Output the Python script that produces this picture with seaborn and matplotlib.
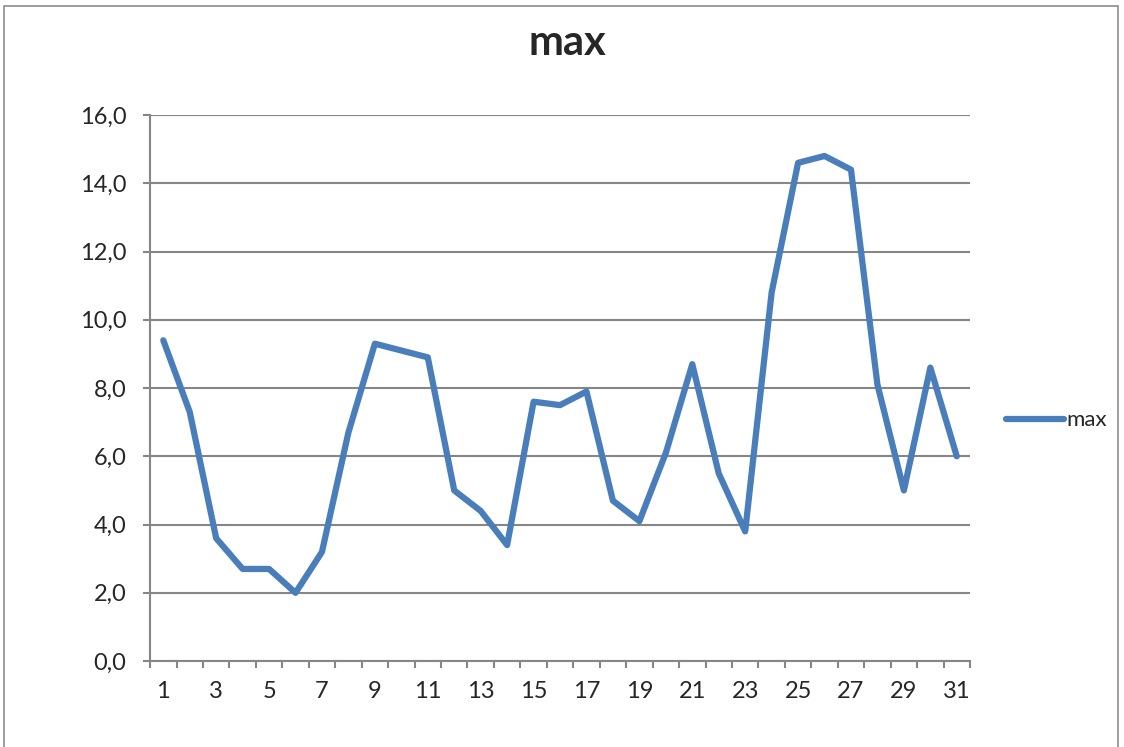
import numpy as np
import pandas as pd
import seaborn as sns
import matplotlib
matplotlib.use("Agg")
import matplotlib.pyplot as plt
from matplotlib.ticker import FixedLocator, FuncFormatter
from matplotlib.patches import Rectangle

# data
days = list(range(1, 32))
max_vals = [9.4, 7.3, 3.6, 2.7, 2.7, 2.0, 3.2, 6.7, 9.3, 9.1,
            8.9, 5.0, 4.4, 3.4, 7.6, 7.5, 7.9, 4.7, 4.1, 6.1,
            8.7, 5.5, 3.8, 10.8, 14.6, 14.8, 14.4, 8.1, 5.0, 8.6,
            6.0]
series_name = "max"
y_ticks = [0, 2, 4, 6, 8, 10, 12, 14, 16]

df = pd.DataFrame({"day": days, "value": max_vals, "series": series_name})

sns.set_style("white")
plt.rcParams["font.family"] = ["Lato", "DejaVu Sans"]

grid_col = "#868686"
line_col = "#4A7EBB"

fig = plt.figure(figsize=(11.24, 7.47), dpi=100)
ax = fig.add_axes([0.1335, 0.115, 0.7295, 0.731])

# outer chart border
fig.patches.append(Rectangle((0.0036, -0.01), 0.991, 1.002, transform=fig.transFigure,
                             fill=False, edgecolor="#8c8c8c", linewidth=1.2, zorder=0))

sns.lineplot(data=df, x="day", y="value", hue="series", palette=[line_col],
             linewidth=4.5, ax=ax, zorder=3)

ax.set_xlim(0.5, 31.5)
ax.set_ylim(0, 16)

# gridlines
ax.set_yticks(y_ticks)
ax.yaxis.set_major_formatter(FuncFormatter(lambda v, p: "{:.1f}".format(v).replace(".", ",")))
ax.grid(axis="y", color=grid_col, linewidth=1.5)
ax.grid(axis="x", visible=False)
ax.set_axisbelow(True)

# x ticks: marks between categories, labels on odd days
ax.xaxis.set_major_locator(FixedLocator(np.arange(0.5, 32, 1)))
ax.xaxis.set_major_formatter(FuncFormatter(lambda v, p: ""))
ax.xaxis.set_minor_locator(FixedLocator(days[::2]))
ax.xaxis.set_minor_formatter(FuncFormatter(lambda v, p: str(int(round(v)))))
ax.tick_params(axis="x", which="major", length=5, width=1.5, color=grid_col,
               direction="out", bottom=True)
ax.tick_params(axis="x", which="minor", length=0, pad=14, labelsize=17, bottom=True)
ax.tick_params(axis="y", length=5, width=1.5, color=grid_col, direction="out",
               pad=12, labelsize=17, left=True)

for s in ["top", "right"]:
    ax.spines[s].set_visible(False)
for s in ["left", "bottom"]:
    ax.spines[s].set_color(grid_col)
    ax.spines[s].set_linewidth(1.5)

ax.set_xlabel("")
ax.set_ylabel("")
fig.text(0.505, 0.942, "max", fontsize=30, fontweight="bold", ha="center", va="center")

leg = ax.legend(loc="center left", bbox_to_anchor=(1.02, 0.441), frameon=False,
                fontsize=16, handlelength=2.6, handletextpad=0.1)
for h in leg.get_lines():
    h.set_linewidth(4.5)

plt.savefig("out.png", dpi=100)
